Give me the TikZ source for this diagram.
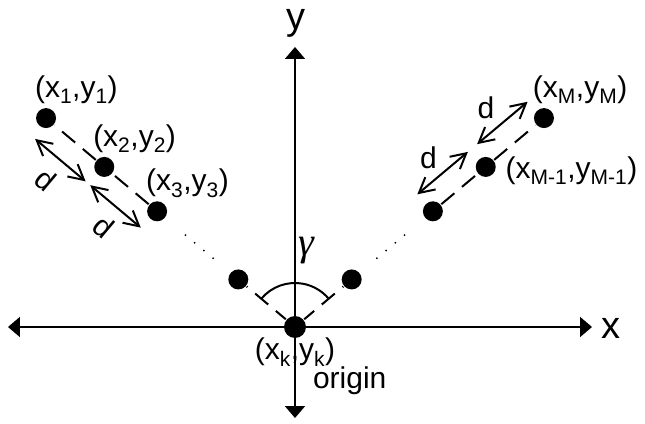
\documentclass[tikz,border=0pt]{standalone}
\usepackage{fontspec}
\setmainfont{Liberation Sans}
\newfontfamily\gammafont{Liberation Serif}
\usetikzlibrary{arrows.meta, positioning, calc}

\begin{document}
\begin{tikzpicture}[
    x=1pt, y=1pt,
    line width=2pt,
    dot/.style={circle, fill=black, inner sep=0pt, minimum size=20pt},
    lbl/.style={inner sep=0pt, anchor=south west, font=\fontsize{30}{36}\selectfont},
    dlbl/.style={inner sep=0pt, font=\fontsize{30}{36}\selectfont},
    axis/.style={{Triangle[length=12pt,width=20pt]}-{Triangle[length=12pt,width=20pt]}},
    dashline/.style={dash pattern=on 17pt off 10pt},
    dotline/.style={line cap=round, dash pattern=on 0pt off 12pt},
    darrow/.style={{Straight Barb[length=15pt,width=16pt]}-{Straight Barb[length=15pt,width=16pt]}}
]
\useasboundingbox (-295,-96) rectangle (350,327);

\coordinate (xl) at (-287,0);
\coordinate (xr) at (297,0);
\coordinate (yb) at (0,-91);
\coordinate (yt) at (0,280);
\draw[axis] (xl) -- (xr);
\draw[axis] (yb) -- (yt);
\node[inner sep=0pt, font=\fontsize{38}{44}\selectfont] (xlab) at (316,-1) {x};
\node[inner sep=0pt, font=\fontsize{38}{44}\selectfont] (ylab) at (1,304) {y};

\node[dot, minimum size=22pt] (O) at (0,0) {};
\node[dot] (p1) at (140:325) {};
\node[dot] (p2) at (140:249) {};
\node[dot] (p3) at (140:180) {};
\node[dot] (p4) at (140:74) {};
\node[dot] (q1) at (40:74) {};
\node[dot] (q2) at (40:180) {};
\node[dot] (qm1) at (40:249) {};
\node[dot] (qm) at (40:325) {};

\draw[dashline, dash phase=4pt] (O) -- (p4);
\draw[dotline, shorten <=22pt, shorten >=16pt] (p4) -- (p3);
\draw[dashline] (p3) -- (p2);
\draw[dashline] (p2) -- (p1);
\draw[dashline, dash phase=4pt] (O) -- (q1);
\draw[dotline, shorten <=22pt, shorten >=16pt] (q1) -- (q2);
\draw[dashline] (q2) -- (qm1);
\draw[dashline] (qm1) -- (qm);

\draw ($(O)+(140:44)$) arc[start angle=140, end angle=40, radius=44pt];
\node[inner sep=0pt, anchor=south west, font=\gammafont\itshape\fontsize{40}{44}\selectfont] (gam) at (2,62) {γ};

\coordinate (a1s) at ($(140:320)+(230:23)$);
\coordinate (a1e) at ($(140:254)+(230:23)$);
\coordinate (a2s) at ($(140:248)+(230:23)$);
\coordinate (a2e) at ($(140:182)+(230:23)$);
\coordinate (b1s) at ($(40:179)+(130:23)$);
\coordinate (b1e) at ($(40:245)+(130:23)$);
\coordinate (b2s) at ($(40:257)+(130:23)$);
\coordinate (b2e) at ($(40:323)+(130:23)$);
\draw[darrow] (a1s) -- (a1e);
\draw[darrow] (a2s) -- (a2e);
\draw[darrow] (b1s) -- (b1e);
\draw[darrow] (b2s) -- (b2e);
\node[dlbl, rotate=-40] (d1) at ($(140:286)+(230:47)$) {d};
\node[dlbl, rotate=-40] (d2) at ($(140:211)+(230:46)$) {d};
\node[dlbl] (d3) at ($(40:211)+(130:44)$) {d};
\node[dlbl] (d4) at ($(40:287)+(130:45)$) {d};

\node[lbl] (l1) at ([shift={(-12,13)}]p1.center) {(x\textsubscript{1},y\textsubscript{1})};
\node[lbl] (l2) at ([shift={(-12,13)}]p2.center) {(x\textsubscript{2},y\textsubscript{2})};
\node[lbl] (l3) at ([shift={(-12,13)}]p3.center) {(x\textsubscript{3},y\textsubscript{3})};
\node[lbl] (lm) at ([shift={(-12,13)}]qm.center) {(x\textsubscript{M},y\textsubscript{M})};
\node[lbl, anchor=west] (lm1) at ([shift={(19,-4)}]qm1.center) {(x\textsubscript{M-1},y\textsubscript{M-1})};
\node[lbl, anchor=north] (lk) at (0,-10) {(x\textsubscript{k},y\textsubscript{k})};
\node[lbl, anchor=north west] (orig) at (17,-39) {origin};
\end{tikzpicture}
\end{document}
